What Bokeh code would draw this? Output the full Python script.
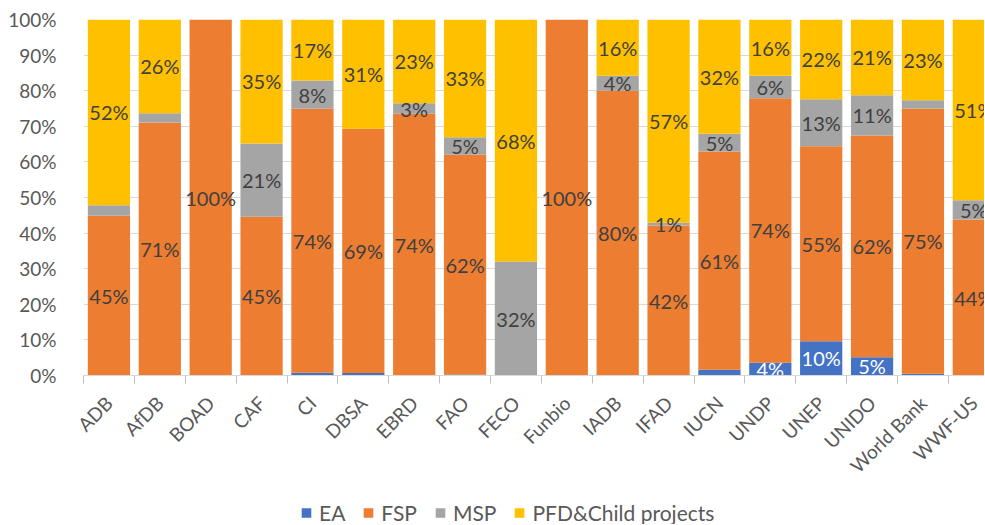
from bokeh.plotting import figure
from bokeh.layouts import column
from bokeh.models import (ColumnDataSource, Range1d, FixedTicker, Legend, LegendItem)
from bokeh.core.properties import value
from bokeh.embed import file_html
from bokeh.resources import INLINE

categories = ["ADB", "AfDB", "BOAD", "CAF", "CI", "DBSA", "EBRD", "FAO", "FECO", "Funbio",
              "IADB", "IFAD", "IUCN", "UNDP", "UNEP", "UNIDO", "World Bank", "WWF-US"]

series_names = ["EA", "FSP", "MSP", "PFD&Child projects"]

EA = [0, 0, 0, 0, 0.8, 0.7, 0, 0.3, 0, 0, 0, 0, 1.6, 3.6, 9.6, 5.1, 0.5, 0]
FSP = [44.9, 71.1, 100, 44.6, 74.1, 68.6, 73.5, 61.7, 0, 100, 80.0, 42.1, 61.3, 74.3, 54.8, 62.3, 74.5, 43.8]
MSP = [2.9, 2.6, 0, 20.6, 8.0, 0, 3.0, 4.9, 32.0, 0, 4.2, 0.8, 5.0, 6.3, 13.2, 11.3, 2.3, 5.4]
PFD = [52.2, 26.3, 0, 34.8, 17.1, 30.7, 23.5, 33.1, 68.0, 0, 15.8, 57.1, 32.1, 15.8, 22.4, 21.3, 22.7, 50.8]

EA_labels = ["", "", "", "", "", "", "", "", "", "", "", "", "", "4%", "10%", "5%", "", ""]
FSP_labels = ["45%", "71%", "100%", "45%", "74%", "69%", "74%", "62%", "", "100%",
              "80%", "42%", "61%", "74%", "55%", "62%", "75%", "44%"]
MSP_labels = ["", "", "", "21%", "8%", "", "3%", "5%", "32%", "", "4%", "1%", "5%", "6%",
              "13%", "11%", "", "5%"]
PFD_labels = ["52%", "26%", "", "35%", "17%", "31%", "23%", "33%", "68%", "", "16%", "57%",
              "32%", "16%", "22%", "21%", "23%", "51%"]

y_ticks = [0, 10, 20, 30, 40, 50, 60, 70, 80, 90, 100]
y_tick_labels = ["0%", "10%", "20%", "30%", "40%", "50%", "60%", "70%", "80%", "90%", "100%"]

colors = ["#4472C4", "#ED7D31", "#A5A5A5", "#FFC000"]
label_colors = ["#FFFFFF", "#404040", "#404040", "#404040"]
FONT = "Lato"

n = len(categories)
xc = [i + 0.5 for i in range(n)]
series = [EA, FSP, MSP, PFD]
labels = [EA_labels, FSP_labels, MSP_labels, PFD_labels]

data = {"x": xc}
for name, s in zip(series_names, series):
    data[name] = s
source = ColumnDataSource(data)

# ---------------- main chart ----------------
p = figure(width=984, height=490, x_range=Range1d(0, 17.71), y_range=Range1d(0, 100),
           output_backend="svg", toolbar_location=None,
           min_border_left=83, min_border_right=0, min_border_top=19, min_border_bottom=115)
p.outline_line_color = None
p.background_fill_color = "white"
p.border_fill_color = "white"

renderers = p.vbar_stack(series_names, x="x", width=0.83, color=colors, line_color=None,
                         source=source)

# data labels, centred in each segment
bottom = [0.0] * n
for s, lab, lc in zip(series, labels, label_colors):
    ys = [b + v / 2 for b, v in zip(bottom, s)]
    bottom = [b + v for b, v in zip(bottom, s)]
    ls = ColumnDataSource({"x": xc, "y": ys, "t": lab})
    p.text(x="x", y="y", text="t", source=ls, text_align="center", text_baseline="middle",
           text_font=value(FONT), text_font_size="20px", text_color=lc)

p.yaxis.ticker = FixedTicker(ticks=y_ticks)
p.yaxis.major_label_overrides = {t: l for t, l in zip(y_ticks, y_tick_labels)}
p.yaxis.axis_line_color = None
p.yaxis.major_tick_line_color = None
p.yaxis.minor_tick_line_color = None
p.yaxis.major_label_standoff = 21
p.yaxis.major_label_text_font = FONT
p.yaxis.major_label_text_font_size = "19px"
p.yaxis.major_label_text_color = "#595959"

p.xaxis.ticker = FixedTicker(ticks=xc, minor_ticks=list(range(n + 1)))
p.xaxis.major_label_overrides = {x: c for x, c in zip(xc, categories)}
p.xaxis.major_label_orientation = 0.785398
p.xaxis.major_tick_in = 0
p.xaxis.major_tick_out = 0
p.xaxis.minor_tick_in = 0
p.xaxis.minor_tick_out = 8
p.xaxis.minor_tick_line_color = "#BFBFBF"
p.xaxis.axis_line_color = "#D9D9D9"
p.xaxis.major_label_standoff = 16
p.xaxis.major_label_text_font = FONT
p.xaxis.major_label_text_font_size = "19px"
p.xaxis.major_label_text_color = "#595959"

p.xgrid.grid_line_color = None
p.ygrid.grid_line_color = "#D9D9D9"
p.ygrid.grid_line_width = 1

# ---------------- legend strip ----------------
# the same stacked bars, placed far outside this strip's visible ranges, only provide legend keys
lg = figure(width=984, height=34, x_range=Range1d(-100, -99), y_range=Range1d(1000, 1001),
            output_backend="svg", toolbar_location=None,
            x_axis_location=None, y_axis_location=None,
            min_border_left=83, min_border_right=0, min_border_top=10, min_border_bottom=0)
lg.outline_line_color = None
lg.xgrid.grid_line_color = None
lg.ygrid.grid_line_color = None
keys = lg.vbar_stack(series_names, x="x", width=0.83, color=colors, line_color=None,
                     source=source)

legend = Legend(items=[LegendItem(label=nm, renderers=[r]) for nm, r in zip(series_names, keys)],
                orientation="horizontal", location="left",
                label_text_font=FONT, label_text_font_size="21px", label_text_color="#595959",
                glyph_width=12, glyph_height=12, label_standoff=7, spacing=17,
                padding=0, margin=217, border_line_color=None, background_fill_alpha=0)
lg.add_layout(legend, "center")

layout = column(p, lg, spacing=0)
open("out.html", "w").write(file_html(layout, INLINE))
